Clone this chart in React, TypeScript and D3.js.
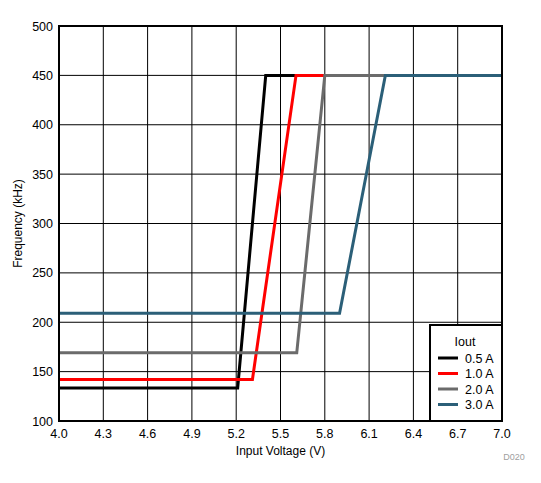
import React from "react";
import * as d3 from "d3";

const xTicks = [4.0, 4.3, 4.6, 4.9, 5.2, 5.5, 5.8, 6.1, 6.4, 6.7, 7.0];
const yTicks = [100, 150, 200, 250, 300, 350, 400, 450, 500];
const seriesNames = ["0.5 A", "1.0 A", "2.0 A", "3.0 A"];
const seriesColors = ["#000000", "#ff0000", "#6b6b6b", "#2b5f78"];
const s05: [number, number][] = [[4.0, 133.5], [5.21, 133.5], [5.4, 450], [7.0, 450]];
const s10: [number, number][] = [[4.0, 142], [5.31, 142], [5.605, 450], [7.0, 450]];
const s20: [number, number][] = [[4.0, 169], [5.61, 169], [5.8, 450], [7.0, 450]];
const s30: [number, number][] = [[4.0, 209], [5.9, 209], [6.21, 450], [7.0, 450]];
const allSeries = [s05, s10, s20, s30];

export default function App() {
  const W = 541, H = 483;
  const L = 59, R = 502, T = 26, B = 421;
  const x = d3.scaleLinear().domain([4.0, 7.0]).range([L, R]);
  const y = d3.scaleLinear().domain([100, 500]).range([B, T]);
  const line = d3.line<[number, number]>().x(d => x(d[0])).y(d => y(d[1]));
  const font = "'Liberation Sans', Arial, sans-serif";
  const lgX = 430, lgY = 325;
  return (
    <svg width={W} height={H} style={{ position: "absolute", left: 0, top: 0 }} fontFamily={font}>
      <rect width={W} height={H} fill="#fff" />
      {xTicks.map(t => (
        <line key={"gx" + t} x1={x(t)} x2={x(t)} y1={T} y2={B} stroke="#000" strokeWidth={1} />
      ))}
      {yTicks.map(t => (
        <line key={"gy" + t} x1={L} x2={R} y1={y(t)} y2={y(t)} stroke="#000" strokeWidth={1} />
      ))}
      {allSeries.map((s, i) => (
        <path key={i} d={line(s) || ""} fill="none" stroke={seriesColors[i]} strokeWidth={3} />
      ))}
      <rect x={L} y={T} width={R - L} height={B - T} fill="none" stroke="#000" strokeWidth={2} />
      {yTicks.map(t => (
        <text key={"ty" + t} x={L - 6} y={y(t) + 4.5} textAnchor="end" fontSize={12.5} fill="#000">{t}</text>
      ))}
      {xTicks.map(t => (
        <text key={"tx" + t} x={x(t)} y={B + 17} textAnchor="middle" fontSize={12.5} fill="#000">{t.toFixed(1)}</text>
      ))}
      <text x={(L + R) / 2} y={455} textAnchor="middle" fontSize={12} fill="#000">Input Voltage (V)</text>
      <text transform={`translate(22,${(T + B) / 2}) rotate(-90)`} textAnchor="middle" fontSize={12} fill="#000">Frequency (kHz)</text>
      <text x={514} y={460} textAnchor="middle" fontSize={9} fill="#a0a0a0">D020</text>
      <rect x={lgX} y={lgY} width={R - lgX} height={B - lgY} fill="#fff" stroke="#000" strokeWidth={2} />
      <text x={465} y={346} textAnchor="middle" fontSize={12.5} fill="#000">Iout</text>
      {seriesNames.map((n, i) => (
        <g key={n}>
          <line x1={438} x2={458} y1={358 + i * 15.5} y2={358 + i * 15.5} stroke={seriesColors[i]} strokeWidth={3} />
          <text x={465} y={362.5 + i * 15.5} fontSize={12.5} fill="#000">{n}</text>
        </g>
      ))}
    </svg>
  );
}
